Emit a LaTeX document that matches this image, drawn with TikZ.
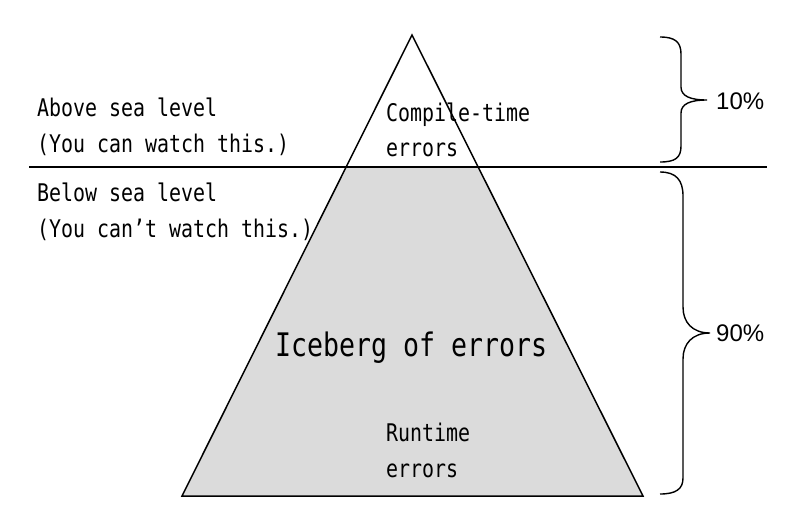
\documentclass[tikz,border=0pt]{standalone}
\usepackage{fontspec}
\setsansfont{Liberation Sans}
\newfontfamily\codefont[FakeStretch=0.82]{DejaVu Sans Mono}
\usetikzlibrary{positioning}
\tikzstyle{monotxt} = [inner sep=0pt, anchor=base west, font=\codefont\fontsize{24.3}{35}\selectfont]
\tikzstyle{titletxt} = [inner sep=0pt, anchor=base west, font=\codefont\fontsize{32.4}{40}\selectfont]
\tikzstyle{pcttxt} = [inner sep=0pt, anchor=west, font=\sffamily\fontsize{24}{28}\selectfont]
\tikzstyle{outline} = [line width=1.5pt, line join=miter]
\tikzstyle{bracepath} = [line width=1.4pt]
\begin{document}
\begin{tikzpicture}[x=1pt, y=-1pt]
\useasboundingbox (0,0) rectangle (800,531);

% iceberg
\coordinate (apex) at (412,35);
\coordinate (bl) at (182,496);
\coordinate (br) at (643,496);
\coordinate (seaL) at (346,167);
\coordinate (seaR) at (478,167);
\fill [fill=black!14] (seaL) -- (seaR) -- (br) -- (bl) -- cycle;
\draw [outline] (apex) -- (br) -- (bl) -- cycle;

% sea level
\coordinate (lineL) at (29,167);
\coordinate (lineR) at (767,167);
\draw [line width=1.5pt] (lineL) -- (lineR);

% left texts
\node (above1) [monotxt] at (37,116) {Above sea level};
\node (above2) [monotxt] at (37,152) {(You can watch this.)};
\node (below1) [monotxt] at (37,201) {Below sea level};
\node (below2) [monotxt] at (37,237) {(You can’t watch this.)};

% inside the triangle
\node (comp1) [monotxt] at (386,121) {Compile-time};
\node (comp2) [monotxt] at (386,156) {errors};
\node (title) [titletxt] at (275,356) {Iceberg of errors};
\node (run1) [monotxt] at (386,441) {Runtime};
\node (run2) [monotxt] at (386,477) {errors};

% braces
\draw [bracepath] (660,37) .. controls (675,37) and (681,42) .. (681,54) -- (681,87)
  .. controls (681,96) and (690,100) .. (707,100) .. controls (690,100) and (681,104) .. (681,113)
  -- (681,146) .. controls (681,158) and (675,162) .. (660,162);
\draw [bracepath] (660,172) .. controls (676,172) and (683,180) .. (683,196) -- (683,307)
  .. controls (683,322) and (692,333) .. (710,333) .. controls (692,333) and (683,344) .. (683,359)
  -- (683,478) .. controls (683,489) and (676,494) .. (660,494);
\node (top) [pcttxt] at (716,101) {10\%};
\node (bottom) [pcttxt] at (716,333) {90\%};
\end{tikzpicture}
\end{document}
